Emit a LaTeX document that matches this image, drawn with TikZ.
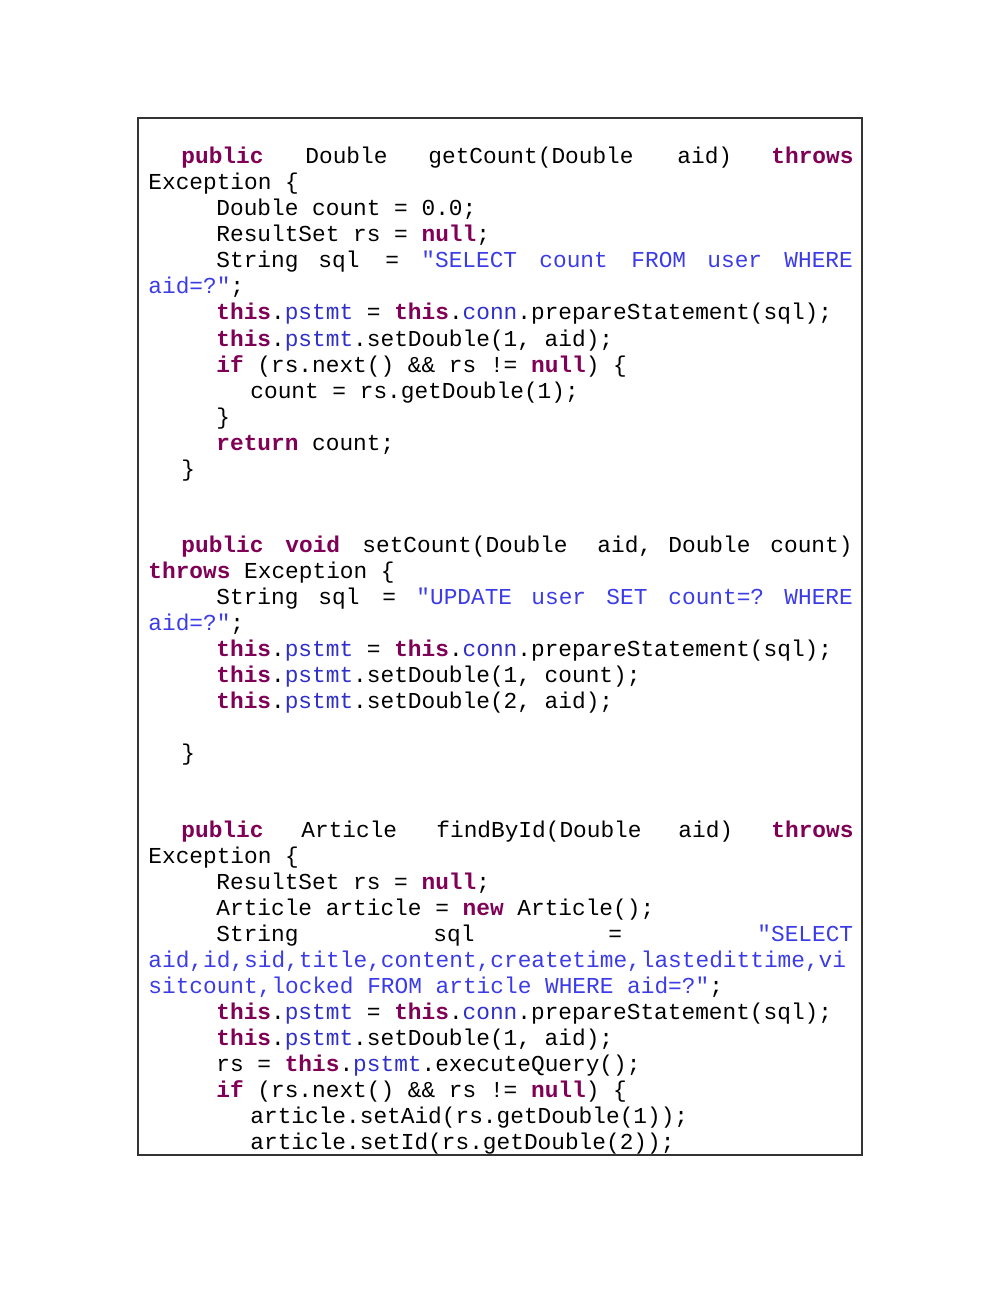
\documentclass[tikz,border=0pt]{standalone}
\usepackage{fontspec}
\setmonofont{Liberation Mono}
\usepackage{xcolor}
\definecolor{kwcol}{HTML}{7F0055}
\definecolor{strcol}{HTML}{3C3CE6}
\definecolor{fldcol}{HTML}{3030C8}
\newcommand{\kw}[1]{\textcolor{kwcol}{\textbf{#1}}}
\newcommand{\st}[1]{\textcolor{strcol}{#1}}
\newcommand{\fd}[1]{\textcolor{fldcol}{#1}}

\tikzset{
  code/.style={anchor=base west, inner sep=0pt, font=\fontsize{11.4}{13}\ttfamily},
  frame/.style={draw=black!80, line width=0.7pt}
}

\begin{document}
\begin{tikzpicture}[x=0.5pt, y=-0.5pt]
  \useasboundingbox (0,0) rectangle (1000,1294);
  \draw[frame] (138,118) rectangle (862,1155);

  % getCount
  \node[code] (ga) at (181,164) {\kw{public}};
  \node[code] (gb) at (305,164) {Double};
  \node[code] (gc) at (428,164) {getCount(Double};
  \node[code] (gd) at (677,164) {aid)};
  \node[code] (ge) at (771,164) {\kw{throws}};
  \node[code] (g2) at (148,190) {Exception \{};
  \node[code] (g3) at (216,216) {Double count = 0.0;};
  \node[code] (g4) at (216,242) {ResultSet rs = \kw{null};};
  \node[code] (g5a) at (216,268) {String};
  \node[code] (g5b) at (318,268) {sql};
  \node[code] (g5c) at (385,268) {=};
  \node[code] (g5d) at (421,268) {\st{"SELECT}};
  \node[code] (g5e) at (539,268) {\st{count}};
  \node[code] (g5f) at (631,268) {\st{FROM}};
  \node[code] (g5g) at (707,268) {\st{user}};
  \node[code] (g5h) at (784,268) {\st{WHERE}};
  \node[code] (g6) at (148,294) {\st{aid=?"};};
  \node[code] (g7) at (216,320) {\kw{this}.\fd{pstmt} = \kw{this}.\fd{conn}.prepareStatement(sql);};
  \node[code] (g8) at (216,346) {\kw{this}.\fd{pstmt}.setDouble(1, aid);};
  \node[code] (g9) at (216,372) {\kw{if} (rs.next() \&\& rs != \kw{null}) \{};
  \node[code] (g10) at (250,398) {count = rs.getDouble(1);};
  \node[code] (g11) at (216,424) {\}};
  \node[code] (g12) at (216,450) {\kw{return} count;};
  \node[code] (g13) at (181,476) {\}};

  % setCount
  \node[code] (sa) at (181,552) {\kw{public}};
  \node[code] (sb) at (285,552) {\kw{void}};
  \node[code] (sc) at (362,552) {setCount(Double};
  \node[code] (sd) at (597,552) {aid,};
  \node[code] (se) at (668,552) {Double};
  \node[code] (sf) at (770,552) {count)};
  \node[code] (s2) at (148,578) {\kw{throws} Exception \{};
  \node[code] (s3a) at (216,604) {String};
  \node[code] (s3b) at (318,604) {sql};
  \node[code] (s3c) at (382,604) {=};
  \node[code] (s3d) at (416,604) {\st{"UPDATE}};
  \node[code] (s3e) at (531,604) {\st{user}};
  \node[code] (s3f) at (606,604) {\st{SET}};
  \node[code] (s3g) at (668,604) {\st{count=?}};
  \node[code] (s3h) at (784,604) {\st{WHERE}};
  \node[code] (s4) at (148,630) {\st{aid=?"};};
  \node[code] (s5) at (216,656) {\kw{this}.\fd{pstmt} = \kw{this}.\fd{conn}.prepareStatement(sql);};
  \node[code] (s6) at (216,682) {\kw{this}.\fd{pstmt}.setDouble(1, count);};
  \node[code] (s7) at (216,708) {\kw{this}.\fd{pstmt}.setDouble(2, aid);};
  \node[code] (s8) at (181,760) {\}};

  % findById
  \node[code] (fa) at (181,837) {\kw{public}};
  \node[code] (fb) at (301,837) {Article};
  \node[code] (fc) at (436,837) {findById(Double};
  \node[code] (fd) at (678,837) {aid)};
  \node[code] (fe) at (771,837) {\kw{throws}};
  \node[code] (f2) at (148,863) {Exception \{};
  \node[code] (f3) at (216,889) {ResultSet rs = \kw{null};};
  \node[code] (f4) at (216,915) {Article article = \kw{new} Article();};
  \node[code] (f5a) at (216,941) {String};
  \node[code] (f5b) at (433,941) {sql};
  \node[code] (f5c) at (608,941) {=};
  \node[code] (f5d) at (757,941) {\st{"SELECT}};
  \node[code] (f6) at (148,967) {\st{aid,id,sid,title,content,createtime,lastedittime,vi}};
  \node[code] (f7) at (148,993) {\st{sitcount,locked FROM article WHERE aid=?"};};
  \node[code] (f8) at (216,1019) {\kw{this}.\fd{pstmt} = \kw{this}.\fd{conn}.prepareStatement(sql);};
  \node[code] (f9) at (216,1045) {\kw{this}.\fd{pstmt}.setDouble(1, aid);};
  \node[code] (f10) at (216,1071) {rs = \kw{this}.\fd{pstmt}.executeQuery();};
  \node[code] (f11) at (216,1097) {\kw{if} (rs.next() \&\& rs != \kw{null}) \{};
  \node[code] (f12) at (250,1123) {article.setAid(rs.getDouble(1));};
  \node[code] (f13) at (250,1149) {article.setId(rs.getDouble(2));};
\end{tikzpicture}
\end{document}
